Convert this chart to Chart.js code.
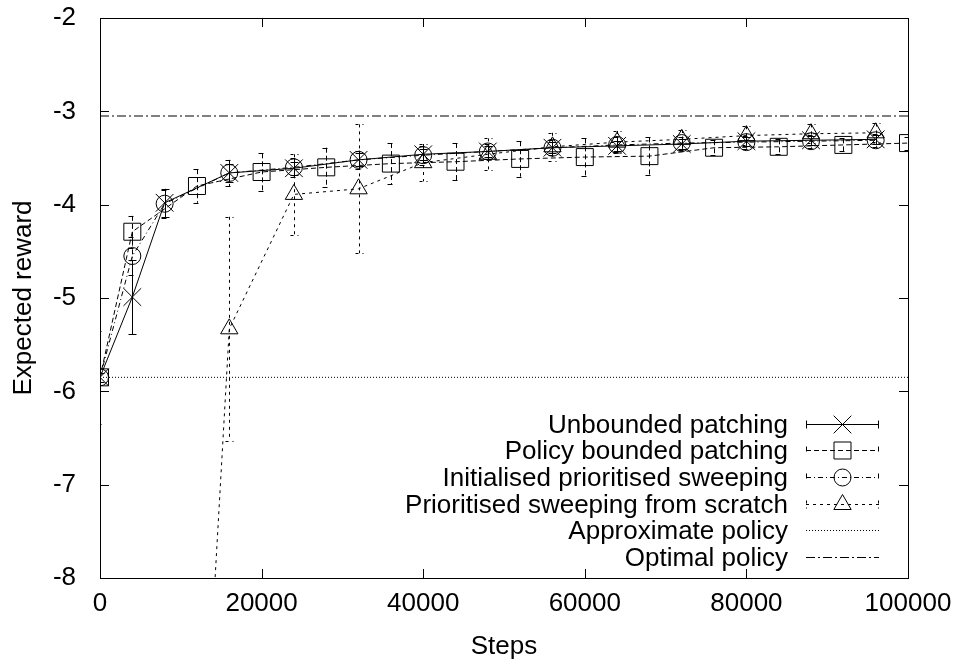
<!DOCTYPE html>
<html><head><meta charset="utf-8">
<script src="https://cdn.jsdelivr.net/npm/chart.js@4/dist/chart.umd.min.js"></script>
<style>html,body{margin:0;padding:0;background:#fff}#wrap{width:962px;height:663px;position:relative}</style>
</head><body><div id="wrap"><canvas id="c"></canvas></div>
<script>
const FONT = '"Liberation Sans", Arial, Helvetica, sans-serif';
const FS = 26;

// ---- data ----
const seriesNames = ['Unbounded patching', 'Policy bounded patching', 'Initialised prioritised sweeping', 'Prioritised sweeping from scratch', 'Approximate policy', 'Optimal policy'];

const unbSteps = [0, 4000, 8000, 16000, 24000, 32000, 40000, 48000, 56000, 64000, 72000, 80000, 88000, 96000];
const unbReward = [-5.85, -4.99, -3.98, -3.66, -3.61, -3.52, -3.46, -3.43, -3.39, -3.37, -3.35, -3.32, -3.31, -3.30];
const unbErr = [0.05, 0.40, 0.15, 0.10, 0.07, 0.07, 0.06, 0.06, 0.06, 0.05, 0.05, 0.05, 0.05, 0.05];

const pbpSteps = [0, 4000, 12000, 20000, 28000, 36000, 44000, 52000, 60000, 68000, 76000, 84000, 92000, 100000];
const pbpReward = [-5.85, -4.29, -3.80, -3.65, -3.60, -3.56, -3.54, -3.51, -3.49, -3.48, -3.39, -3.38, -3.36, -3.34];
const pbpErr = [0.05, 0.17, 0.18, 0.20, 0.21, 0.22, 0.20, 0.19, 0.20, 0.20, 0.08, 0.08, 0.07, 0.07];

const ipsSteps = [0, 4000, 8000, 16000, 24000, 32000, 40000, 48000, 56000, 64000, 72000, 80000, 88000, 96000];
const ipsReward = [-5.85, -4.55, -3.99, -3.66, -3.60, -3.52, -3.47, -3.43, -3.39, -3.36, -3.34, -3.33, -3.32, -3.31];
const ipsErr = [0.50, 0.20, 0.15, 0.14, 0.10, 0.10, 0.10, 0.08, 0.08, 0.08, 0.07, 0.07, 0.07, 0.07];

const psfSteps = [8000, 16000, 24000, 32000, 40000, 48000, 56000, 64000, 72000, 80000, 88000, 96000];
const psfReward = [-17.5, -5.33, -3.89, -3.83, -3.55, -3.46, -3.38, -3.33, -3.30, -3.26, -3.24, -3.23];
const psfErr = [0, 1.20, 0.43, 0.69, 0.20, 0.17, 0.15, 0.12, 0.10, 0.10, 0.10, 0.10];

const refSteps = [0, 100000];
const approxReward = -5.85;
const optimalReward = -3.05;

const xTicks = [0, 20000, 40000, 60000, 80000, 100000];
const yTicks = [-2, -3, -4, -5, -6, -7, -8];

// ---- build ----
const pts = (xs, ys) => xs.map((x, i) => ({x, y: ys[i]}));
const styles = [
  {dash: [], ps: 'crossRot', r: 12.5},
  {dash: [5, 3], ps: 'rect', r: 12},
  {dash: [5, 3, 1, 3], ps: 'circle', r: 8.5},
  {dash: [3, 4], ps: 'triangle', r: 10},
  {dash: [1, 2], ps: false, r: 0},
  {dash: [9, 3, 2, 3], ps: false, r: 0}
];
const errs = [unbErr, pbpErr, ipsErr, psfErr, null, null];
const dataArr = [
  pts(unbSteps, unbReward), pts(pbpSteps, pbpReward), pts(ipsSteps, ipsReward), pts(psfSteps, psfReward),
  pts(refSteps, refSteps.map(() => approxReward)), pts(refSteps, refSteps.map(() => optimalReward))
];
const datasets = dataArr.map((d, i) => ({
  label: seriesNames[i],
  data: d,
  showLine: true,
  borderColor: '#000',
  borderWidth: 1,
  borderDash: styles[i].dash,
  pointStyle: styles[i].ps,
  pointRadius: styles[i].r,
  pointHoverRadius: styles[i].r,
  pointBorderColor: '#000',
  pointBackgroundColor: 'rgba(0,0,0,0)',
  pointBorderWidth: 1,
  tension: 0,
  errors: errs[i]
}));

function drawMarker(ctx, style, x, y) {
  ctx.save();
  ctx.setLineDash([]);
  ctx.lineWidth = 1;
  ctx.strokeStyle = '#000';
  ctx.beginPath();
  const r = style.r;
  if (style.ps === 'crossRot') {
    const d = r * Math.SQRT1_2;
    ctx.moveTo(x - d, y - d); ctx.lineTo(x + d, y + d);
    ctx.moveTo(x - d, y + d); ctx.lineTo(x + d, y - d);
  } else if (style.ps === 'rect') {
    const s = r * Math.SQRT1_2;
    ctx.rect(x - s, y - s, 2 * s, 2 * s);
  } else if (style.ps === 'circle') {
    ctx.arc(x, y, r, 0, Math.PI * 2);
  } else if (style.ps === 'triangle') {
    ctx.moveTo(x, y - r);
    ctx.lineTo(x + r * Math.cos(Math.PI / 6), y + r / 2);
    ctx.lineTo(x - r * Math.cos(Math.PI / 6), y + r / 2);
    ctx.closePath();
  }
  ctx.stroke();
  ctx.restore();
}

const gnuplotPlugin = {
  id: 'gnuplot',
  beforeDatasetsDraw(chart) {
    const {ctx, chartArea: a, scales: {x, y}} = chart;
    ctx.save();
    ctx.beginPath();
    ctx.rect(a.left, a.top, a.right - a.left, a.bottom - a.top);
    ctx.clip();
    ctx.strokeStyle = '#000';
    ctx.lineWidth = 1;
    chart.data.datasets.forEach((ds) => {
      if (!ds.errors) return;
      ctx.setLineDash(ds.borderDash);
      ds.data.forEach((p, j) => {
        const e = ds.errors[j];
        if (!e) return;
        const px = Math.round(x.getPixelForValue(p.x)) + 0.5;
        const y1 = y.getPixelForValue(p.y + e);
        const y2 = y.getPixelForValue(p.y - e);
        ctx.beginPath();
        ctx.moveTo(px, y1); ctx.lineTo(px, y2);
        ctx.moveTo(px - 4, Math.round(y1) + 0.5); ctx.lineTo(px + 4, Math.round(y1) + 0.5);
        ctx.moveTo(px - 4, Math.round(y2) + 0.5); ctx.lineTo(px + 4, Math.round(y2) + 0.5);
        ctx.stroke();
      });
    });
    ctx.restore();
  },
  afterDatasetsDraw(chart) {
    const {ctx, chartArea: a, scales: {x, y}} = chart;
    ctx.save();
    ctx.strokeStyle = '#000';
    ctx.lineWidth = 1;
    ctx.setLineDash([]);
    // frame
    ctx.strokeRect(Math.round(a.left) + 0.5, Math.round(a.top) + 0.5, Math.round(a.right - a.left), Math.round(a.bottom - a.top));
    // inward ticks, mirrored
    const tl = 9;
    ctx.beginPath();
    y.ticks.forEach(t => {
      const py = Math.round(y.getPixelForValue(t.value)) + 0.5;
      ctx.moveTo(a.left, py); ctx.lineTo(a.left + tl, py);
      ctx.moveTo(a.right, py); ctx.lineTo(a.right - tl, py);
    });
    x.ticks.forEach(t => {
      const px = Math.round(x.getPixelForValue(t.value)) + 0.5;
      ctx.moveTo(px, a.bottom); ctx.lineTo(px, a.bottom - tl);
      ctx.moveTo(px, a.top); ctx.lineTo(px, a.top + tl);
    });
    ctx.stroke();

    // legend (bottom right, text right-aligned, sample to the right)
    const rowH = 26.7;
    const n = chart.data.datasets.length;
    const textRight = a.right - 120;
    const sL = a.right - 102, sR = a.right - 29;
    ctx.font = FS + 'px ' + FONT;
    ctx.fillStyle = '#000';
    ctx.textAlign = 'right';
    ctx.textBaseline = 'middle';
    chart.data.datasets.forEach((ds, i) => {
      const ry = Math.round(a.bottom - 21 - (n - 1 - i) * rowH) + 0.5;
      ctx.fillText(ds.label, textRight, ry + 1);
      ctx.save();
      ctx.setLineDash(ds.borderDash);
      ctx.beginPath();
      ctx.moveTo(sL, ry); ctx.lineTo(sR, ry);
      if (ds.errors) {
        ctx.moveTo(sL + 0.5, ry - 4); ctx.lineTo(sL + 0.5, ry + 4);
        ctx.moveTo(sR - 0.5, ry - 4); ctx.lineTo(sR - 0.5, ry + 4);
      }
      ctx.stroke();
      ctx.restore();
      if (styles[i].ps) drawMarker(ctx, styles[i], (sL + sR) / 2, ry);
    });
    ctx.restore();
  }
};

new Chart(document.getElementById('c'), {
  type: 'scatter',
  data: {datasets},
  options: {
    responsive: true,
    maintainAspectRatio: false,
    animation: false,
    devicePixelRatio: 1,
    layout: {padding: {top: 18, right: 54, left: 0, bottom: 0}},
    plugins: {legend: {display: false}, tooltip: {enabled: false}},
    scales: {
      x: {
        type: 'linear', min: 0, max: 100000,
        afterBuildTicks: s => { s.ticks = xTicks.map(v => ({value: v})); },
        afterFit: s => { s.height = 85; s.paddingLeft = 0; s.paddingRight = 0; },
        grid: {display: false, drawTicks: false},
        border: {display: false},
        ticks: {color: '#000', font: {family: FONT, size: FS}, padding: 10, maxRotation: 0, callback: v => String(v)},
        title: {display: true, text: 'Steps', color: '#000', font: {family: FONT, size: FS}, padding: {top: 0, bottom: 1}}
      },
      y: {
        type: 'linear', min: -8, max: -2,
        afterBuildTicks: s => { s.ticks = yTicks.map(v => ({value: v})); },
        afterFit: s => { s.width = 100; s.paddingTop = 0; s.paddingBottom = 0; },
        grid: {display: false, drawTicks: false},
        border: {display: false},
        ticks: {color: '#000', font: {family: FONT, size: FS}, padding: 24, callback: v => String(v)},
        title: {display: true, text: 'Expected reward', color: '#000', font: {family: FONT, size: FS}, padding: {top: 8, bottom: 0}}
      }
    }
  },
  plugins: [gnuplotPlugin]
});
</script>
</body></html>
